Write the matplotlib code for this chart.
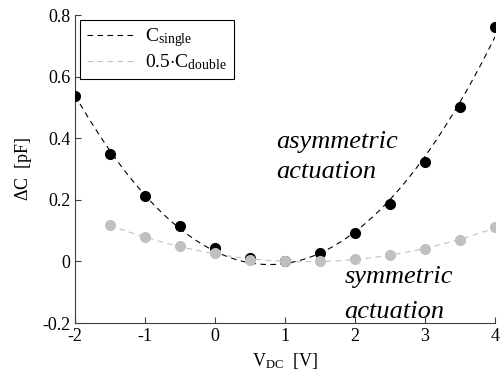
import numpy as np
import matplotlib
matplotlib.use('Agg')
import matplotlib.pyplot as plt

plt.rcParams['font.family'] = ['Liberation Serif', 'DejaVu Serif']
plt.rcParams['mathtext.fontset'] = 'custom'
plt.rcParams['mathtext.rm'] = 'Liberation Serif'
plt.rcParams['mathtext.it'] = 'Liberation Serif:italic'
plt.rcParams['axes.unicode_minus'] = False

# measured points
v_single = [-2, -1.5, -1, -0.5, 0, 0.5, 1, 1.5, 2, 2.5, 3, 3.5, 4]
c_single = [0.537, 0.35, 0.211, 0.114, 0.044, 0.01, 0.0, 0.027, 0.092, 0.187, 0.322, 0.501, 0.761]
v_double = [-1.5, -1, -0.5, 0, 0.5, 1, 1.5, 2, 2.5, 3, 3.5, 4]
c_double = [0.117, 0.079, 0.05, 0.027, 0.005, 0.0, 0.0, 0.009, 0.022, 0.041, 0.07, 0.111]

xticks = [-2, -1, 0, 1, 2, 3, 4]
yticks = [-0.2, 0, 0.2, 0.4, 0.6, 0.8]

gray = '#c0c0c0'

fig = plt.figure(figsize=(5.0, 3.77), dpi=100)
ax = fig.add_axes([0.15, 0.143, 0.84, 0.817])

# quadratic fits
p1 = np.polyfit(v_single, c_single, 2)
x1 = np.linspace(v_single[0], v_single[-1], 200)
p2 = np.polyfit(v_double, c_double, 2)
x2 = np.linspace(v_double[0], v_double[-1], 200)

ax.plot(x1, np.polyval(p1, x1), color='black', lw=0.8, dashes=(5, 4),
        label=r'$\mathrm{C}_{\mathrm{single}}$', zorder=2)
ax.plot(x2, np.polyval(p2, x2), color=gray, lw=0.8, dashes=(5, 4),
        label=r'$\mathrm{0.5{\cdot}C}_{\mathrm{double}}$', zorder=2)
ax.plot(v_single, c_single, 'o', color='black', ms=7, zorder=3)
ax.plot(v_double, c_double, 'o', color=gray, ms=7, zorder=4)

# annotations (left aligned, by baseline)
ax.text(0.88, 0.37, 'asymmetric', fontsize=19, style='italic', ha='left', va='baseline')
ax.text(0.88, 0.27, 'actuation', fontsize=19, style='italic', ha='left', va='baseline')
ax.text(1.85, -0.071, 'symmetric', fontsize=19, style='italic', ha='left', va='baseline')
ax.text(1.85, -0.185, 'actuation', fontsize=19, style='italic', ha='left', va='baseline')

ax.set_xlim(-2, 4)
ax.set_ylim(-0.2, 0.8)
ax.set_xticks(xticks)
ax.set_xticklabels([str(t) for t in xticks])
ax.set_yticks(yticks)
ax.set_yticklabels(['-0.2', '0', '0.2', '0.4', '0.6', '0.8'])
ax.tick_params(direction='in', length=4, labelsize=13, colors='#404040',
               labelcolor='black')
for s in ['top', 'right']:
    ax.spines[s].set_visible(False)
for s in ['left', 'bottom']:
    ax.spines[s].set_color('#404040')
    ax.spines[s].set_linewidth(0.8)

ax.set_xlabel(r'$\mathrm{V}_{\mathrm{DC}}$  [V]', fontsize=13, labelpad=4)
ax.set_ylabel(r'$\Delta$C  [pF]', fontsize=13, labelpad=6)

leg = ax.legend(loc='upper left', bbox_to_anchor=(0.012, 0.985), fontsize=14,
                frameon=True, fancybox=False, handlelength=2.4,
                handletextpad=0.6, borderaxespad=0, labelspacing=0.15,
                borderpad=0.35)
leg.get_frame().set_edgecolor('black')
leg.get_frame().set_linewidth(0.8)
leg.get_frame().set_alpha(1)

fig.savefig('out.png', dpi=100)
